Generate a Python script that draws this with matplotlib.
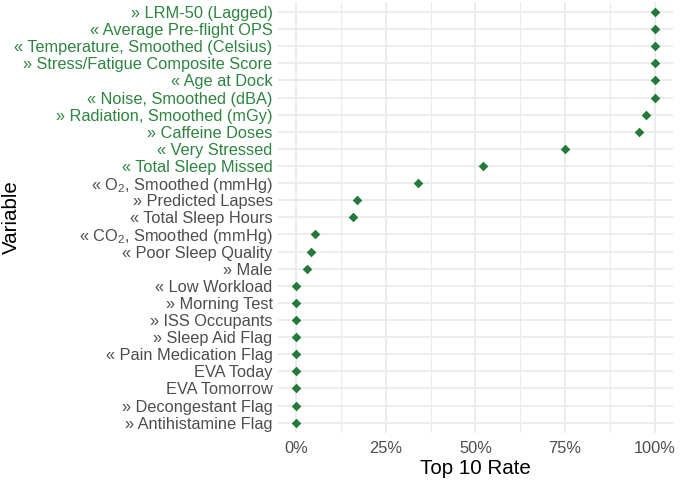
import numpy as np
import matplotlib
matplotlib.use("Agg")
import matplotlib.pyplot as plt
from matplotlib.ticker import MultipleLocator, FuncFormatter

plt.rcParams['font.family'] = ['Liberation Sans', 'DejaVu Sans']
plt.rcParams['mathtext.fontset'] = 'custom'
plt.rcParams['mathtext.rm'] = 'Liberation Sans'
plt.rcParams['mathtext.it'] = 'Liberation Sans:italic'

# variables, top to bottom
variables = [
    "» LRM-50 (Lagged)",
    "« Average Pre-flight OPS",
    "« Temperature, Smoothed (Celsius)",
    "» Stress/Fatigue Composite Score",
    "« Age at Dock",
    "« Noise, Smoothed (dBA)",
    "» Radiation, Smoothed (mGy)",
    "» Caffeine Doses",
    "« Very Stressed",
    "« Total Sleep Missed",
    "« O$_2$, Smoothed (mmHg)",
    "» Predicted Lapses",
    "« Total Sleep Hours",
    "« CO$_2$, Smoothed (mmHg)",
    "« Poor Sleep Quality",
    "» Male",
    "« Low Workload",
    "» Morning Test",
    "» ISS Occupants",
    "» Sleep Aid Flag",
    "« Pain Medication Flag",
    "EVA Today",
    "EVA Tomorrow",
    "» Decongestant Flag",
    "» Antihistamine Flag",
]
top10_rate = [1.00, 1.00, 1.00, 1.00, 1.00, 1.00, 0.977, 0.956, 0.75, 0.52,
              0.34, 0.17, 0.16, 0.053, 0.042, 0.03, 0, 0, 0, 0, 0, 0, 0, 0, 0]
in_top10 = [True] * 10 + [False] * 15

point_green = '#237A3B'
label_green = '#2E8540'
label_grey = '#4D4D4D'

fig = plt.figure(figsize=(6.85, 4.97), dpi=100)
ax = fig.add_axes([0.406, 0.129, 0.576, 0.8676])

n = len(variables)
ypos = np.arange(n)[::-1]
ax.scatter(top10_rate, ypos, marker='D', s=24, color=point_green, zorder=3, linewidths=0)

ax.set_xlim(-0.05, 1.05)
ax.set_ylim(-0.6, n - 0.4)
ax.set_yticks(ypos)
ax.set_yticklabels(variables)
for lbl, hit in zip(ax.get_yticklabels(), in_top10):
    lbl.set_color(label_green if hit else label_grey)

ax.xaxis.set_major_locator(MultipleLocator(0.25))
ax.xaxis.set_minor_locator(MultipleLocator(0.125))
ax.xaxis.set_major_formatter(FuncFormatter(lambda v, p: f"{v * 100:.0f}%"))

ax.grid(True, which='major', color='#EBEBEB', linewidth=1.3)
ax.grid(True, which='minor', axis='x', color='#EBEBEB', linewidth=0.8)
ax.set_axisbelow(True)
for s in ax.spines.values():
    s.set_visible(False)
ax.tick_params(axis='both', which='both', length=0, labelsize=11.8)
ax.tick_params(axis='x', colors=label_grey, pad=6)
ax.tick_params(axis='y', pad=4)

ax.set_xlabel('Top 10 Rate', fontsize=14.8, labelpad=2)
ax.set_ylabel('Variable', fontsize=14.8)
ax.yaxis.set_label_coords(-0.652, 0.5)

fig.savefig('out.png', dpi=100)
